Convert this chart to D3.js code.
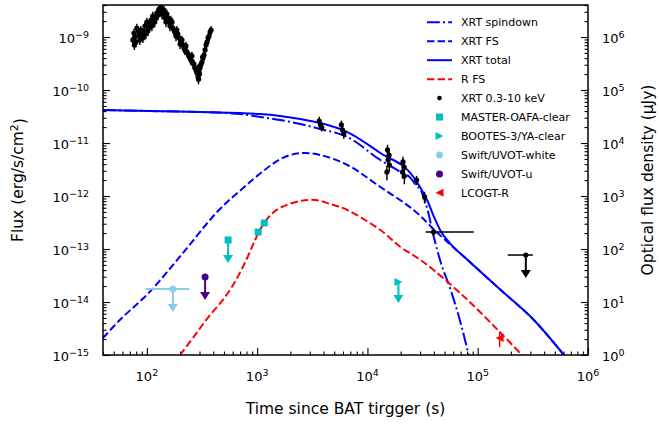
<!DOCTYPE html>
<html>
<head>
<meta charset="utf-8">
<title>XRT and optical light curve</title>
<script src="https://d3js.org/d3.v7.min.js"></script>
<style>
  body { margin: 0; background: #fff; }
  text { font-family: "DejaVu Sans", sans-serif; fill: #000; }
</style>
</head>
<body>
<div id="chart"></div>
<script>
// ---- model curves (time in s, flux in erg/s/cm^2)
const spindownT = [40, 106, 303, 700, 1065, 1617, 2460, 3740, 6580, 13100, 19950, 24600, 27900, 30300, 35100, 39800, 46100, 56900, 70000, 82800];
const spindownF = [4.2e-11, 4.02e-11, 3.85e-11, 3.52e-11, 3.1e-11, 2.72e-11, 2.28e-11, 1.84e-11, 1.3e-11, 4.78e-12, 2.84e-12, 2.19e-12, 1.55e-12, 1.3e-12, 5.45e-13, 1.76e-13, 5.68e-14, 1.68e-14, 4.02e-15, 1e-15];

const fsT = [40, 56.8, 106, 212, 433, 746, 1100, 1500, 1995, 2620, 3740, 6580, 13100, 26200, 43300, 81100, 161800, 323000, 605000];
const fsF = [2.09e-15, 4.57e-15, 1.55e-14, 8.4e-14, 4.99e-13, 1.42e-12, 2.8e-12, 4.5e-12, 5.94e-12, 6.47e-12, 5.94e-12, 3.85e-12, 1.48e-12, 5.45e-13, 2.0e-13, 6.2e-14, 1.68e-14, 4.57e-15, 1e-15];

const totalT = [40, 106, 303, 700, 1065, 1617, 2460, 3740, 6580, 13100, 26200, 30300, 35100, 39800, 46100, 56900, 81100, 161800, 323000, 605000];
const totalF = [4.2e-11, 4.02e-11, 3.85e-11, 3.68e-11, 3.52e-11, 3.23e-11, 2.84e-11, 2.38e-11, 1.61e-11, 6.47e-12, 2.28e-12, 1.42e-12, 8.05e-13, 4.2e-13, 2.19e-13, 1.24e-13, 6.2e-14, 1.68e-14, 4.57e-15, 1e-15];

const rfsT = [200, 273, 374, 512, 658, 811, 959, 1110, 1312, 1617, 2460, 3370, 4610, 6580, 13100, 19950, 28500, 39800, 81100, 161800, 262000];
const rfsF = [1e-15, 2.38e-15, 5.68e-15, 1.24e-14, 2.84e-14, 6.76e-14, 1.48e-13, 2.7e-13, 4.3e-13, 6.0e-13, 8.05e-13, 8.4e-13, 7.06e-13, 5.45e-13, 2.28e-13, 1.09e-13, 6.76e-14, 4.02e-14, 1.09e-14, 2.6e-15, 9.2e-16];

// ---- XRT 0.3-10 keV data
const earlyT = [74.6, 76.3, 77, 78, 79.4, 81.1, 83, 84.6, 86.3, 88.2, 90, 92, 94, 96, 98, 100, 102, 104, 106.5, 109, 111, 113, 115, 118, 121, 123, 126, 129, 131, 134, 137, 140, 143, 146, 149, 152, 155, 158.5, 162, 165, 169, 172, 176, 180, 183.5, 187, 191, 195, 200, 204, 208, 212, 217, 221, 226, 231, 236, 241, 246, 251, 256, 262, 267, 273, 279, 285, 288, 291, 294, 297, 300, 303, 306, 310, 316, 320, 323, 330, 337, 344, 351, 359, 366, 374, 382];
const earlyF = [8.8e-10, 1.19e-9, 7.1e-10, 1.0e-9, 8.0e-10, 1.48e-9, 1.3e-9, 1.09e-9, 8.8e-10, 1.35e-9, 1.1e-9, 9.6e-10, 1.24e-9, 1.61e-9, 1.14e-9, 1.92e-9, 1.3e-9, 1.48e-9, 1.76e-9, 2.09e-9, 1.61e-9, 2.49e-9, 2.0e-9, 1.92e-9, 2.28e-9, 2.84e-9, 2.6e-9, 3.37e-9, 2.96e-9, 3.68e-9, 2.72e-9, 2.96e-9, 3.23e-9, 2.28e-9, 1.92e-9, 2.72e-9, 2.28e-9, 1.92e-9, 1.61e-9, 2.09e-9, 1.92e-9, 1.48e-9, 1.35e-9, 1.24e-9, 1.04e-9, 1.35e-9, 1.14e-9, 9.6e-10, 7.4e-10, 8.0e-10, 8.8e-10, 7.1e-10, 6.2e-10, 5.7e-10, 6.8e-10, 5.2e-10, 4.8e-10, 4.4e-10, 4.0e-10, 3.68e-10, 4.4e-10, 3.2e-10, 3.1e-10, 2.6e-10, 2.38e-10, 2.1e-10, 2.5e-10, 1.76e-10, 1.6e-10, 2.19e-10, 2.0e-10, 2.6e-10, 2.9e-10, 3.1e-10, 3.37e-10, 4.2e-10, 4.0e-10, 4.57e-10, 5.7e-10, 7.1e-10, 8.0e-10, 9.6e-10, 1.04e-9, 1.24e-9, 1.35e-9];
const earlyErr = 0.2;

const lateT = [3650, 3750, 3850, 5800, 5950, 6100, 15200, 15700, 15400, 15800, 15000, 21000, 21500, 20800, 21600, 27900, 33000, 39800];
const lateF = [2.6e-11, 2.2e-11, 1.95e-11, 2.2e-11, 1.76e-11, 1.5e-11, 7.4e-12, 5.9e-12, 4.8e-12, 3.85e-12, 2.84e-12, 4.4e-12, 3.5e-12, 2.84e-12, 2.38e-12, 2.0e-12, 9.6e-13, 2.1e-13];
const lateErr = [0.2, 0.2, 0.15, 0.2, 0.2, 0.2, 0.25, 0.25, 0.25, 0.25, 0.3, 0.25, 0.25, 0.25, 0.3, 0.2, 0.25, 0.15];
const lateTLo = [null, null, null, null, null, null, null, null, null, null, null, null, null, null, null, null, null, 33700];
const lateTHi = [null, null, null, null, null, null, null, null, null, null, null, null, null, null, null, null, null, 92000];

const xrtLimitT = 273000, xrtLimitF = 7.7e-14, xrtLimitTLo = 187000, xrtLimitTHi = 316000;

// ---- optical data (time in s, flux density in microJy)
const masterT = [1020, 1160];
const masterFd = [209, 310];
const masterLimitT = [545];
const masterLimitFd = [148];
const bootesLimitT = [19100];
const bootesLimitFd = [23.8];
const uvotWhiteT = [172], uvotWhiteFd = [17.6], uvotWhiteTLo = [98], uvotWhiteTHi = [241];
const uvotUT = [337], uvotUFd = [29.6];
const lcogtT = [158000], lcogtFd = [2.1], lcogtLo = [1.42], lcogtHi = [2.72];

// ---- axes
const xTicks = [1e2, 1e3, 1e4, 1e5, 1e6];
const xTickExp = ["2", "3", "4", "5", "6"];
const yTicks = [1e-15, 1e-14, 1e-13, 1e-12, 1e-11, 1e-10, 1e-9];
const yTickExp = ["\u221215", "\u221214", "\u221213", "\u221212", "\u221211", "\u221210", "\u22129"];
const y2Ticks = [1, 1e1, 1e2, 1e3, 1e4, 1e5, 1e6];
const y2TickExp = ["0", "1", "2", "3", "4", "5", "6"];

const legendLabels = ["XRT spindown", "XRT FS", "XRT total", "R FS", "XRT 0.3-10 keV",
  "MASTER-OAFA-clear", "BOOTES-3/YA-clear", "Swift/UVOT-white", "Swift/UVOT-u", "LCOGT-R"];

const W = 659, H = 424;
const plot = { left: 103, right: 588, top: 5, bottom: 355 };
const blue = "#0000ff", red = "#ff0000", cyan = "#00bfbf", sky = "#87ceeb", indigo = "#4b0082";

const svg = d3.select("#chart").append("svg")
  .attr("width", W).attr("height", H);

const x = d3.scaleLog().domain([40, 1e6]).range([plot.left, plot.right]);
const y = d3.scaleLog().domain([1e-15, 4.02e-9]).range([plot.bottom, plot.top]);
const y2 = d3.scaleLog().domain([1, 4.02e6]).range([plot.bottom, plot.top]);

function minors(lo, hi) {
  const out = [];
  for (let e = Math.floor(Math.log10(lo)); e <= Math.ceil(Math.log10(hi)); e++) {
    for (let m = 2; m <= 9; m++) {
      const v = m * Math.pow(10, e);
      if (v >= lo * 0.999 && v <= hi * 1.001) out.push(v);
    }
  }
  return out;
}

svg.append("clipPath").attr("id", "clip").append("rect")
  .attr("x", plot.left).attr("y", plot.top)
  .attr("width", plot.right - plot.left).attr("height", plot.bottom - plot.top);

// ticks (inward)
function tickGroup(axis, transform) {
  const g = svg.append("g").attr("transform", transform).call(axis);
  g.select(".domain").remove();
  g.selectAll("line").attr("stroke", "#000").attr("stroke-width", 1.1);
  return g;
}
tickGroup(d3.axisBottom(x).tickValues(xTicks).tickSize(-7).tickFormat(""), `translate(0,${plot.bottom})`);
tickGroup(d3.axisBottom(x).tickValues(minors(40, 1e6)).tickSize(-3.5).tickFormat(""), `translate(0,${plot.bottom})`);
tickGroup(d3.axisLeft(y).tickValues(yTicks).tickSize(-7).tickFormat(""), `translate(${plot.left},0)`);
tickGroup(d3.axisLeft(y).tickValues(minors(1e-15, 4.02e-9)).tickSize(-3.5).tickFormat(""), `translate(${plot.left},0)`);
tickGroup(d3.axisRight(y2).tickValues(y2Ticks).tickSize(-7).tickFormat(""), `translate(${plot.right},0)`);
tickGroup(d3.axisRight(y2).tickValues(minors(1, 4.02e6)).tickSize(-3.5).tickFormat(""), `translate(${plot.right},0)`);

// tick labels as 10^n
function powLabel(px, py, exp, anchor) {
  const t = svg.append("text").attr("x", px).attr("y", py)
    .attr("text-anchor", anchor).style("font-size", "13px");
  t.append("tspan").text("10");
  t.append("tspan").attr("dy", "-0.5em").style("font-size", "9.5px").text(exp);
}
xTicks.forEach((v, i) => powLabel(x(v), plot.bottom + 26, xTickExp[i], "middle"));
yTicks.forEach((v, i) => powLabel(plot.left - 14, y(v) + 6, yTickExp[i], "end"));
y2Ticks.forEach((v, i) => powLabel(plot.right + 14, y2(v) + 6, y2TickExp[i], "start"));

// axis titles
svg.append("text").attr("x", (plot.left + plot.right) / 2).attr("y", 414)
  .attr("text-anchor", "middle").style("font-size", "15.5px").text("Time since BAT tirgger (s)");
const yl = svg.append("text").attr("transform", `translate(23,${(plot.top + plot.bottom) / 2}) rotate(-90)`)
  .attr("text-anchor", "middle").style("font-size", "15.5px");
yl.append("tspan").text("Flux (erg/s/cm");
yl.append("tspan").attr("dy", "-0.45em").style("font-size", "11px").text("2");
yl.append("tspan").attr("dy", "0.45em").text(")");
svg.append("text").attr("transform", `translate(653,${(plot.top + plot.bottom) / 2}) rotate(-90)`)
  .attr("text-anchor", "middle").style("font-size", "15.5px").text("Optical flux density (\u03bcJy)");

// model curves
const smooth = d3.line().x(d => x(d[0])).y(d => y(d[1])).curve(d3.curveCatmullRom.alpha(0.5));
const mono = d3.line().x(d => x(d[0])).y(d => y(d[1])).curve(d3.curveMonotoneX);
const curves = svg.append("g").attr("clip-path", "url(#clip)");
const curveDefs = [
  { t: spindownT, f: spindownF, color: blue, dash: "12.8,3.2,2,3.2", gen: mono },
  { t: fsT, f: fsF, color: blue, dash: "7.4,3.2", gen: smooth },
  { t: totalT, f: totalF, color: blue, dash: null, gen: mono },
  { t: rfsT, f: rfsF, color: red, dash: "7.4,3.2", gen: smooth }
];
curveDefs.forEach(c => {
  curves.append("path").datum(d3.zip(c.t, c.f))
    .attr("d", c.gen).attr("fill", "none")
    .attr("stroke", c.color).attr("stroke-width", 2)
    .attr("stroke-dasharray", c.dash);
});

const marks = svg.append("g").attr("clip-path", "url(#clip)");

// marker shapes
function marker(g, shape, cx, cy, color, s) {
  if (shape === "circle") {
    g.append("circle").attr("cx", cx).attr("cy", cy).attr("r", s).attr("fill", color);
  } else if (shape === "square") {
    g.append("rect").attr("x", cx - s).attr("y", cy - s).attr("width", 2 * s).attr("height", 2 * s).attr("fill", color);
  } else if (shape === "right") {
    g.append("path").attr("d", `M${cx - s},${cy - s}L${cx + s},${cy}L${cx - s},${cy + s}Z`).attr("fill", color);
  } else if (shape === "left") {
    g.append("path").attr("d", `M${cx + s},${cy - s}L${cx - s},${cy}L${cx + s},${cy + s}Z`).attr("fill", color);
  }
}
function vbar(g, cx, y1, y2v, color, w) {
  g.append("line").attr("x1", cx).attr("x2", cx).attr("y1", y1).attr("y2", y2v)
    .attr("stroke", color).attr("stroke-width", w || 1.5);
}
function hbar(g, x1, x2, cy, color, w) {
  g.append("line").attr("x1", x1).attr("x2", x2).attr("y1", cy).attr("y2", cy)
    .attr("stroke", color).attr("stroke-width", w || 1.5);
}
function downArrow(g, cx, cy, color, len) {
  const tip = cy + len;
  vbar(g, cx, cy, tip - 5, color, 2);
  g.append("path").attr("d", `M${cx - 5},${tip - 8}L${cx + 5},${tip - 8}L${cx},${tip}Z`).attr("fill", color);
}

// early XRT
earlyT.forEach((t, i) => {
  vbar(marks, x(t), y(earlyF[i] * (1 + earlyErr)), y(earlyF[i] * (1 - earlyErr)), "#000", 1.4);
});
earlyT.forEach((t, i) => marker(marks, "circle", x(t), y(earlyF[i]), "#000", 2.6));

// late XRT
lateT.forEach((t, i) => {
  vbar(marks, x(t), y(lateF[i] * (1 + lateErr[i])), y(lateF[i] * (1 - lateErr[i])), "#000", 1.5);
  if (lateTLo[i]) hbar(marks, x(lateTLo[i]), x(lateTHi[i]), y(lateF[i]), "#000", 1.5);
  marker(marks, "circle", x(t), y(lateF[i]), "#000", 2.6);
});
hbar(marks, x(xrtLimitTLo), x(xrtLimitTHi), y(xrtLimitF), "#000", 1.5);
downArrow(marks, x(xrtLimitT), y(xrtLimitF), "#000", 23);
marker(marks, "circle", x(xrtLimitT), y(xrtLimitF), "#000", 2.6);

// optical
masterLimitT.forEach((t, i) => {
  downArrow(marks, x(t), y2(masterLimitFd[i]), cyan, 23);
  marker(marks, "square", x(t), y2(masterLimitFd[i]), cyan, 3.5);
});
masterT.forEach((t, i) => marker(marks, "square", x(t), y2(masterFd[i]), cyan, 3.5));
bootesLimitT.forEach((t, i) => {
  downArrow(marks, x(t), y2(bootesLimitFd[i]), cyan, 21);
  marker(marks, "right", x(t), y2(bootesLimitFd[i]), cyan, 4);
});
uvotWhiteT.forEach((t, i) => {
  hbar(marks, x(uvotWhiteTLo[i]), x(uvotWhiteTHi[i]), y2(uvotWhiteFd[i]), sky, 2);
  downArrow(marks, x(t), y2(uvotWhiteFd[i]), sky, 23);
  marker(marks, "circle", x(t), y2(uvotWhiteFd[i]), sky, 3.5);
});
uvotUT.forEach((t, i) => {
  downArrow(marks, x(t), y2(uvotUFd[i]), indigo, 23);
  marker(marks, "circle", x(t), y2(uvotUFd[i]), indigo, 3.5);
});
lcogtT.forEach((t, i) => {
  vbar(marks, x(t), y2(lcogtHi[i]), y2(lcogtLo[i]), red, 1.5);
  marker(marks, "left", x(t), y2(lcogtFd[i]), red, 4);
});

// frame
svg.append("rect").attr("x", plot.left).attr("y", plot.top)
  .attr("width", plot.right - plot.left).attr("height", plot.bottom - plot.top)
  .attr("fill", "none").attr("stroke", "#000").attr("stroke-width", 1.5);

// legend
const leg = svg.append("g");
const legX0 = 427, legX1 = 452, legTx = 461, legY0 = 22.3, legDy = 18.95;
const legendStyles = [
  { line: blue, dash: "12.8,3.2,2,3.2" }, { line: blue, dash: "7.4,3.2" }, { line: blue, dash: null },
  { line: red, dash: "7.4,3.2" }, { shape: "circle", color: "#000", s: 2.3 },
  { shape: "square", color: cyan, s: 3.5 }, { shape: "right", color: cyan, s: 4 },
  { shape: "circle", color: sky, s: 3.5 }, { shape: "circle", color: indigo, s: 3.5 },
  { shape: "left", color: red, s: 4 }
];
legendLabels.forEach((lab, i) => {
  const cy = legY0 + i * legDy;
  const st = legendStyles[i];
  if (st.line) {
    leg.append("line").attr("x1", legX0).attr("x2", legX1).attr("y1", cy).attr("y2", cy)
      .attr("stroke", st.line).attr("stroke-width", 2).attr("stroke-dasharray", st.dash);
  } else {
    marker(leg, st.shape, (legX0 + legX1) / 2, cy, st.color, st.s);
  }
  leg.append("text").attr("x", legTx).attr("y", cy + 4).style("font-size", "11px").text(lab);
});
</script>
</body>
</html>
